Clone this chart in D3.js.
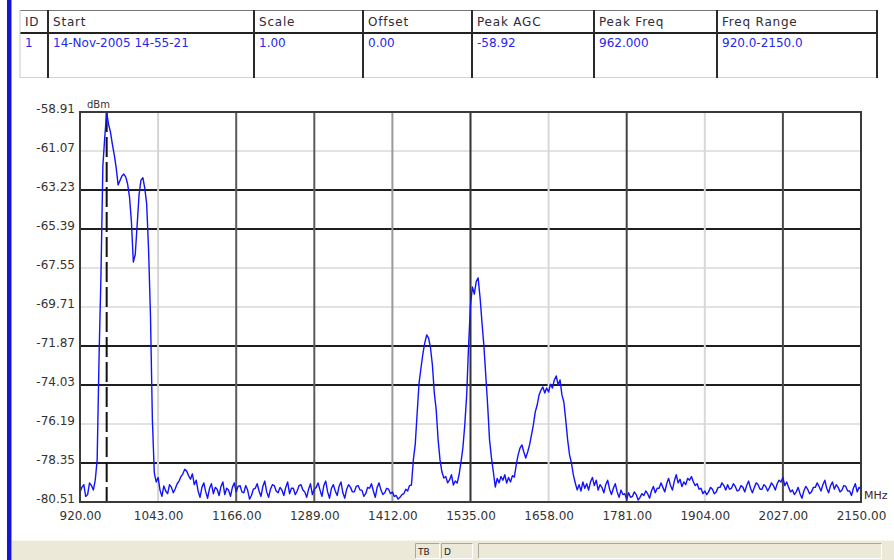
<!DOCTYPE html>
<html>
<head>
<meta charset="utf-8">
<script src="https://cdn.jsdelivr.net/npm/d3@7"></script>
<style>
  body { margin: 0; background: #fff; }
  svg { display: block; font-family: "DejaVu Sans", "Liberation Sans", Arial, sans-serif; }
</style>
</head>
<body>
<svg id="chart" width="894" height="560"></svg>
<script>
// ---- Trace summary table ----
const tableColumns = ["ID", "Start", "Scale", "Offset", "Peak AGC", "Peak Freq", "Freq Range"];
const tableRow = ["1", "14-Nov-2005 14-55-21", "1.00", "0.00", "-58.92", "962.000", "920.0-2150.0"];

// ---- Sweep: 920 MHz to 2150 MHz in 3 MHz steps, level in dBm ----
const sweepStartMHz = 920;
const sweepStepMHz = 3;
const levelsDbm = [
  -79.95, -79.70, -79.55, -80.20, -80.10, -79.45, -79.60, -79.85, -79.30, -78.20,
  -72.50, -68.00, -61.90, -60.30, -58.92, -59.60, -60.02, -60.70, -61.29, -62.00,
  -62.95, -62.70, -62.45, -62.35, -62.50, -62.90, -63.62, -65.00, -67.22, -66.80,
  -65.17, -63.50, -62.68, -62.55, -63.12, -64.00, -66.55, -70.20, -75.97, -78.90,
  -79.40, -79.15, -79.85, -80.20, -79.62, -79.90, -80.05, -79.55, -79.70, -80.00,
  -79.78, -79.50, -79.35, -79.10, -78.95, -78.70, -78.80, -79.05, -79.25, -78.95,
  -79.55, -79.30, -79.90, -80.25, -79.70, -79.45, -79.95, -80.30, -79.75, -79.50,
  -80.05, -79.70, -79.80, -80.15, -79.65, -79.40, -80.10, -79.75, -79.85, -80.20,
  -79.70, -79.45, -79.95, -79.65, -79.60, -79.95, -80.00, -79.60, -79.85, -80.35,
  -80.15, -79.80, -79.75, -79.50, -79.90, -80.20, -79.65, -79.35, -79.95, -80.25,
  -79.80, -79.55, -79.60, -79.90, -80.00, -79.70, -79.85, -80.15, -79.70, -79.40,
  -80.05, -79.75, -79.75, -80.10, -79.90, -79.60, -79.55, -79.85, -79.95, -80.25,
  -79.80, -79.50, -80.10, -79.80, -79.70, -79.45, -79.85, -80.20, -79.60, -79.35,
  -79.95, -80.30, -79.75, -79.55, -79.90, -80.15, -79.65, -79.40, -80.00, -80.30,
  -79.80, -79.55, -79.70, -79.95, -79.95, -79.65, -79.60, -79.85, -79.85, -80.20,
  -80.05, -79.70, -79.75, -79.50, -79.90, -80.25, -79.70, -79.45, -79.85, -80.10,
  -80.00, -79.75, -79.80, -80.05, -79.95, -80.20, -80.15, -80.35, -80.25, -80.10,
  -80.05, -79.80, -79.90, -79.60, -79.57, -78.18, -77.30, -75.58, -73.92, -73.09,
  -72.30, -71.70, -71.26, -71.43, -71.98, -72.92, -74.47, -75.41, -77.07, -78.18,
  -78.85, -79.18, -79.10, -79.45, -79.29, -79.00, -79.57, -79.35, -79.46, -79.00,
  -78.30, -77.52, -76.24, -74.58, -71.81, -69.60, -68.60, -69.00, -68.30, -68.10,
  -69.16, -70.54, -71.81, -73.48, -75.14, -77.07, -78.07, -78.85, -79.68, -79.20,
  -79.45, -79.10, -79.30, -79.00, -79.46, -79.15, -79.40, -79.05, -79.13, -78.46,
  -77.90, -77.52, -77.35, -77.74, -78.07, -77.74, -77.35, -76.80, -76.24, -75.52,
  -75.14, -74.58, -74.31, -74.14, -74.47, -74.20, -74.42, -73.98, -74.20, -73.75,
  -73.53, -74.03, -73.75, -74.58, -74.97, -75.97, -77.07, -77.90, -78.35, -79.01,
  -79.46, -79.84, -79.55, -79.90, -79.40, -79.75, -79.50, -79.85, -79.40, -79.15,
  -79.60, -79.30, -79.85, -79.55, -79.70, -80.00, -79.55, -79.30, -79.80, -80.10,
  -79.75, -79.50, -79.95, -80.25, -79.85, -80.10, -80.05, -80.35, -80.00, -80.25,
  -80.20, -79.95, -80.10, -80.40, -80.25, -80.05, -80.15, -79.90, -80.05, -80.30,
  -79.90, -79.65, -80.00, -79.75, -79.75, -79.45, -79.70, -79.95, -79.50, -79.20,
  -79.60, -79.85, -79.35, -79.00, -79.45, -79.25, -79.65, -79.40, -79.55, -79.20,
  -79.30, -79.10, -79.40, -79.60, -79.50, -79.80, -79.75, -80.05, -79.90, -80.10,
  -79.95, -79.70, -79.80, -80.05, -79.95, -79.70, -79.70, -79.45, -79.60, -79.85,
  -79.55, -79.80, -79.75, -79.50, -79.65, -79.90, -79.85, -79.60, -79.70, -79.95,
  -79.60, -79.35, -79.75, -80.00, -79.70, -79.45, -79.55, -79.80, -79.80, -79.55,
  -79.65, -79.90, -79.70, -79.45, -79.60, -79.85, -79.50, -79.30, -79.40, -79.15,
  -79.60, -79.40, -79.70, -79.95, -79.85, -80.10, -79.95, -79.70, -80.05, -80.30,
  -79.90, -79.65, -79.80, -80.05, -79.95, -79.70, -79.70, -79.45, -79.65, -79.90,
  -79.55, -79.30, -79.75, -80.00, -79.60, -79.40, -79.80, -79.55, -79.70, -79.95,
  -79.85, -79.60, -79.65, -79.90, -79.90, -80.15, -79.75, -79.50, -79.95, -79.70,
  -79.80
];

// ---- Axis ticks ----
const freqTicks = [920, 1043, 1166, 1289, 1412, 1535, 1658, 1781, 1904, 2027, 2150];
const levelTicks = ["-58.91", "-61.07", "-63.23", "-65.39", "-67.55", "-69.71",
                    "-71.87", "-74.03", "-76.19", "-78.35", "-80.51"];
const markerFreqMHz = 962.0;

const svg = d3.select("#chart");
const textColor = "#333";

// ---- window chrome: left accent bar and status bar ----
svg.append("rect").attr("x", 7).attr("y", 0).attr("width", 4).attr("height", 560).attr("fill", "#1414d8");
svg.append("rect").attr("x", 11).attr("y", 0).attr("width", 1).attr("height", 560).attr("fill", "#8c8cf0");

svg.append("rect").attr("x", 12).attr("y", 540).attr("width", 882).attr("height", 20).attr("fill", "#ece9d8");
svg.append("line").attr("x1", 12).attr("x2", 894).attr("y1", 540.5).attr("y2", 540.5).attr("stroke", "#f7f5ee");
const panels = [
  { x: 415, w: 25, label: "TB" },
  { x: 441, w: 32, label: "D" },
  { x: 478, w: 404, label: "" }
];
panels.forEach(p => {
  const g = svg.append("g");
  g.append("path").attr("d", `M${p.x + 0.5},558 V543.5 H${p.x + p.w}`).attr("fill", "none").attr("stroke", "#aca899");
  g.append("path").attr("d", `M${p.x + 1},558.5 H${p.x + p.w - 0.5} V543.5`).attr("fill", "none").attr("stroke", "#ffffff");
  if (p.label) {
    g.append("text").attr("x", p.x + 3).attr("y", 555).attr("font-size", 9).attr("fill", "#222").text(p.label);
  }
});

// ---- summary table ----
const colX = [20, 48, 254, 363, 472, 594, 717, 877];
const tbl = svg.append("g");
tbl.append("line").attr("x1", 20).attr("x2", 877).attr("y1", 10.5).attr("y2", 10.5).attr("stroke", "#777");
tbl.append("line").attr("x1", 20).attr("x2", 877).attr("y1", 77.5).attr("y2", 77.5).attr("stroke", "#d4d4d4");
tbl.append("line").attr("x1", 20).attr("x2", 877).attr("y1", 33).attr("y2", 33).attr("stroke", "#222").attr("stroke-width", 2);
colX.forEach((cx, i) => {
  const edge = i === 0;
  tbl.append("line")
    .attr("x1", cx).attr("x2", cx).attr("y1", 10).attr("y2", 78)
    .attr("stroke", edge ? "#c8c8c8" : "#2a2a2a")
    .attr("stroke-width", edge ? 1 : 2);
});
tableColumns.forEach((c, i) => {
  tbl.append("text").attr("x", colX[i] + 5).attr("y", 25.5).attr("font-size", 12)
    .attr("letter-spacing", 0.8).attr("fill", "#2e2a3a").text(c);
});
tableRow.forEach((c, i) => {
  tbl.append("text").attr("x", colX[i] + 5).attr("y", 46.5).attr("font-size", 12)
    .attr("fill", "#2626f0").text(c);
});

// ---- spectrum plot ----
const plot = { left: 80, right: 861, top: 112, bottom: 502 };
const levelValues = levelTicks.map(Number);
const x = d3.scaleLinear().domain([freqTicks[0], freqTicks[freqTicks.length - 1]]).range([plot.left, plot.right]);
const y = d3.scaleLinear().domain([d3.min(levelValues), d3.max(levelValues)]).range([plot.bottom, plot.top]);

// grid line shading for each tick (dark / grey / light)
const hGridShade = ["none", "#e2e2e2", "#1e1e1e", "#1e1e1e", "#e2e2e2", "#e2e2e2", "#1e1e1e", "#1e1e1e", "#e2e2e2", "#1e1e1e", "none"];
const vGridShade = ["none", "#d4d4d4", "#5a5a5a", "#5a5a5a", "#9a9a9a", "#333333", "#d8d8d8", "#444444", "#d8d8d8", "#4a4a4a", "none"];

const grid = svg.append("g");
levelValues.forEach((v, i) => {
  if (hGridShade[i] === "none") return;
  grid.append("line").attr("x1", plot.left).attr("x2", plot.right)
    .attr("y1", y(v)).attr("y2", y(v))
    .attr("stroke", hGridShade[i]).attr("stroke-width", 2);
});
freqTicks.forEach((f, i) => {
  if (vGridShade[i] === "none") return;
  grid.append("line").attr("x1", x(f)).attr("x2", x(f))
    .attr("y1", plot.top).attr("y2", plot.bottom)
    .attr("stroke", vGridShade[i]).attr("stroke-width", 2);
});

// peak-frequency marker
svg.append("line")
  .attr("x1", x(markerFreqMHz)).attr("x2", x(markerFreqMHz))
  .attr("y1", plot.top).attr("y2", plot.bottom)
  .attr("stroke", "#111").attr("stroke-width", 2).attr("stroke-dasharray", "20,5");

// trace
const trace = levelsDbm.map((v, i) => ({ f: sweepStartMHz + i * sweepStepMHz, v }));
svg.append("path")
  .datum(trace)
  .attr("fill", "none")
  .attr("stroke", "#1212ff")
  .attr("stroke-width", 1.4)
  .attr("stroke-linejoin", "round")
  .attr("d", d3.line().x(d => x(d.f)).y(d => y(d.v)));

// frame
svg.append("rect")
  .attr("x", plot.left).attr("y", plot.top)
  .attr("width", plot.right - plot.left).attr("height", plot.bottom - plot.top)
  .attr("fill", "none").attr("stroke", "#3a3a3a").attr("stroke-width", 2);

// axes: labels only, the frame and grid carry the lines
const yAxis = d3.axisLeft(y).tickValues(levelValues).tickSize(0).tickPadding(5)
  .tickFormat((d, i) => levelTicks[i]);
const yG = svg.append("g").attr("transform", `translate(${plot.left},-3)`).call(yAxis);
yG.select(".domain").remove();
yG.selectAll("text").attr("font-size", 12).attr("fill", textColor)
  .attr("font-family", "DejaVu Sans, Liberation Sans, sans-serif");

const xAxis = d3.axisBottom(x).tickValues(freqTicks).tickSize(0).tickPadding(9)
  .tickFormat(d => d.toFixed(2));
const xG = svg.append("g").attr("transform", `translate(0,${plot.bottom})`).call(xAxis);
xG.select(".domain").remove();
xG.selectAll("text").attr("font-size", 12).attr("fill", textColor)
  .attr("font-family", "DejaVu Sans, Liberation Sans, sans-serif");

// unit labels
svg.append("text").attr("x", 87).attr("y", 108).attr("font-size", 10).attr("fill", textColor).text("dBm");
svg.append("text").attr("x", 864).attr("y", 499).attr("font-size", 11).attr("fill", "#4a2020").text("MHz");
</script>
</body>
</html>
